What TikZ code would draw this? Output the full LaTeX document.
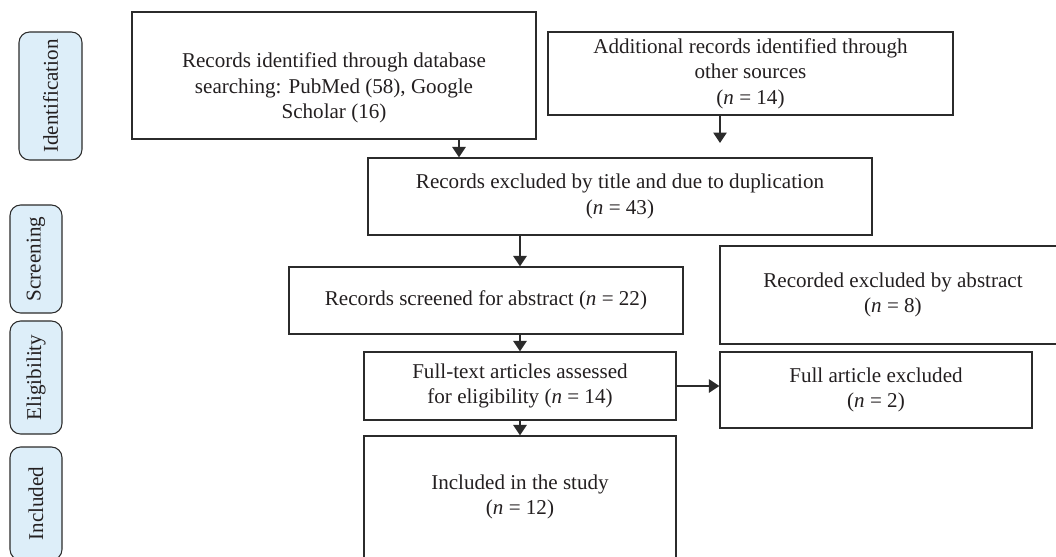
\documentclass[tikz,border=0pt]{standalone}
\usepackage{fontspec}
\setmainfont{Liberation Serif}
\usetikzlibrary{arrows.meta}

\definecolor{linegray}{HTML}{2B2B2B}
\definecolor{textgray}{HTML}{231F20}
\definecolor{tagblue}{HTML}{DDEEF9}

\begin{document}
\begin{tikzpicture}[x=0.02cm,y=-0.02cm,
	font=\fontsize{12}{14.5}\selectfont,
	box/.style={draw=linegray, line width=0.7pt, align=center, inner sep=0pt, text=textgray},
	tag/.style={draw=linegray, fill=tagblue, line width=0.6pt, rounded corners=6pt, rotate=90, inner sep=0pt, text=textgray},
	arr/.style={draw=linegray, line width=0.7pt, -{Triangle[width=0.27cm,length=0.21cm]}}]
	\def\px{0.02cm}
	\useasboundingbox (0,0) rectangle (1056,556);

	\node[tag, minimum width=128*\px, minimum height=63*\px] (tagid) at (50.5,96) {Identification};
	\node[tag, minimum width=108*\px, minimum height=52*\px] (tagscr) at (36,259) {Screening};
	\node[tag, minimum width=113*\px, minimum height=52*\px] (tagel) at (36,377.5) {Eligibility};
	\node[tag, minimum width=113*\px, minimum height=52*\px] (tagin) at (36,503.5) {Included};

	\node[box, minimum width=404*\px, minimum height=127*\px] (ident) at (334,75.5)
		{\rule{0pt}{23pt}Records identified through database\\searching: PubMed (58), Google\\Scholar (16)};
	\node[box, minimum width=405*\px, minimum height=83*\px] (other) at (750.5,73.5)
		{Additional records identified through\\other sources\\(\textit{n} = 14)};
	\node[box, minimum width=504*\px, minimum height=77*\px] (dup) at (620,196.5)
		{Records excluded by title and due to duplication\\(\textit{n} = 43)};
	\node[box, minimum width=394*\px, minimum height=67*\px] (screen) at (486,300.5)
		{Records screened for abstract (\textit{n} = 22)};
	\node[box, minimum width=346*\px, minimum height=98*\px] (exabs) at (893,295)
		{Recorded excluded by abstract\\(\textit{n} = 8)};
	\node[box, minimum width=312*\px, minimum height=68*\px] (full) at (520,386)
		{Full-text articles assessed\\for eligibility (\textit{n} = 14)};
	\node[box, minimum width=312*\px, minimum height=76*\px] (fullex) at (876,390)
		{Full article excluded\\(\textit{n} = 2)};
	\node[box, minimum width=312*\px, minimum height=122*\px] (incl) at (520,497)
		{Included in the study\\(\textit{n} = 12)};

	\coordinate (xa) at (459,0);
	\coordinate (oend) at (720,143);

	\draw[arr] (ident.south -| xa) -- (dup.north -| xa);
	\draw[arr] (other.south -| oend) -- (oend);
	\draw[arr] (dup.south -| full) -- (screen.north -| full);
	\draw[arr] (screen.south -| full) -- (full.north);
	\draw[arr] (full.south) -- (incl.north);
	\draw[arr] (full.east) -- (fullex.west |- full.east);
\end{tikzpicture}
\end{document}
